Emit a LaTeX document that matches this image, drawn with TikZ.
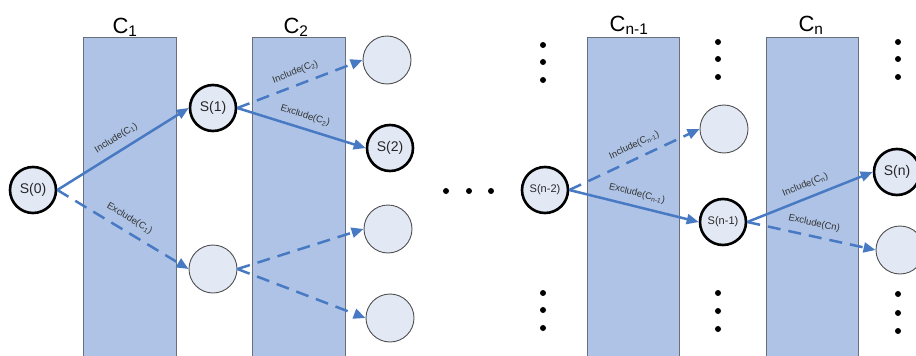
\documentclass[tikz,border=0pt]{standalone}
\usepackage{fontspec}
\setmainfont{Liberation Sans}
\usetikzlibrary{arrows.meta}
\definecolor{colfill}{RGB}{174,195,229}
\definecolor{colborder}{RGB}{105,112,124}
\definecolor{nodefill}{RGB}{226,233,245}
\definecolor{arrowblue}{RGB}{72,122,196}
\definecolor{thingray}{RGB}{80,80,80}
\begin{document}
\begin{tikzpicture}[x=1pt,y=-1pt,
  col/.style={fill=colfill,draw=colborder,line width=0.8pt},
  snode/.style={circle,draw=black,line width=2.6pt,fill=nodefill,minimum size=46pt,inner sep=0pt,font=\fontsize{14}{14}\selectfont,text=black!85},
  snodesm/.style={snode,font=\fontsize{11}{11}\selectfont},
  enode/.style={circle,draw=thingray,line width=0.9pt,fill=nodefill,minimum size=48pt,inner sep=0pt},
  conn/.style={draw=arrowblue,line width=2.5pt,-{Triangle[length=12pt,width=10pt]}},
  dconn/.style={conn,dash pattern=on 13pt off 8pt},
  lab/.style={midway,sloped,above=7pt,inner sep=0pt,font=\fontsize{9.5}{10}\selectfont,text=black!80},
  hdr/.style={anchor=base,font=\fontsize{22}{22}\selectfont},
  dot/.style={circle,fill=black,inner sep=0pt,minimum size=6pt}]
\useasboundingbox (0,0) rectangle (916,356);
\clip (0,0) rectangle (916,356);
% columns
\draw[col] (83,37) rectangle (176,362);
\draw[col] (252,37) rectangle (345,362);
\draw[col] (587,37) rectangle (679,362);
\draw[col] (766,37) rectangle (858,362);
\node[hdr] (h1) at (125,33) {C\textsubscript{1}};
\node[hdr] (h2) at (296,33) {C\textsubscript{2}};
\node[hdr] (h3) at (629,31) {C\textsubscript{n-1}};
\node[hdr] (h4) at (811,31) {C\textsubscript{n}};
% states
\node[snode] (s0) at (33,190) {S(0)};
\node[snode] (s1) at (213,108) {S(1)};
\node[enode] (e1) at (213,269) {};
\node[enode] (t2) at (387,60) {};
\node[snode] (s2) at (390,148) {S(2)};
\node[enode] (m2) at (388,229) {};
\node[enode] (b2) at (390,318) {};
\node[snodesm] (sn2) at (545,190) {S(n-2)};
\node[enode] (en1) at (724,129) {};
\node[snodesm] (sn1) at (723,222) {S(n-1)};
\node[snode] (sn) at (897,172) {S(n)};
\node[enode] (en) at (900,250) {};
% connectors
\draw[conn] (s0.east) -- node[lab]{Include(C\textsubscript{1})} (s1.west);
\draw[dconn] (s0.east) -- node[lab]{Exclude(C\textsubscript{1})} (e1.west);
\draw[dconn] (s1.east) -- node[lab]{Include(C\textsubscript{2})} (t2.west);
\draw[conn] (s1.east) -- node[lab]{Exclude(C\textsubscript{2})} (s2.west);
\draw[dconn] (e1.east) -- (m2.west);
\draw[dconn] (e1.east) -- (b2.west);
\draw[dconn] (sn2.east) -- node[lab,pos=0.54]{Include(C\textsubscript{n-1})} (en1.west);
\draw[conn] (sn2.east) -- node[lab]{Exclude(C\textsubscript{n-1})} (sn1.west);
\draw[conn] (sn1.east) -- node[lab]{Include(C\textsubscript{n})} (sn.west);
\draw[dconn] (sn1.east) -- node[lab]{Exclude(Cn)} (en.west);
% dots
\foreach \x/\y [count=\i] in {446/191,469/191,491/191,
  543/45,543/62,543/80,543/293,543/310,543/328,
  718/42,718/59,718/77,718/293,718/311,718/329,
  898/42,898/59,898/77,898/294,898/313,898/331}
  \node[dot] (dot\i) at (\x,\y) {};
\end{tikzpicture}
\end{document}
